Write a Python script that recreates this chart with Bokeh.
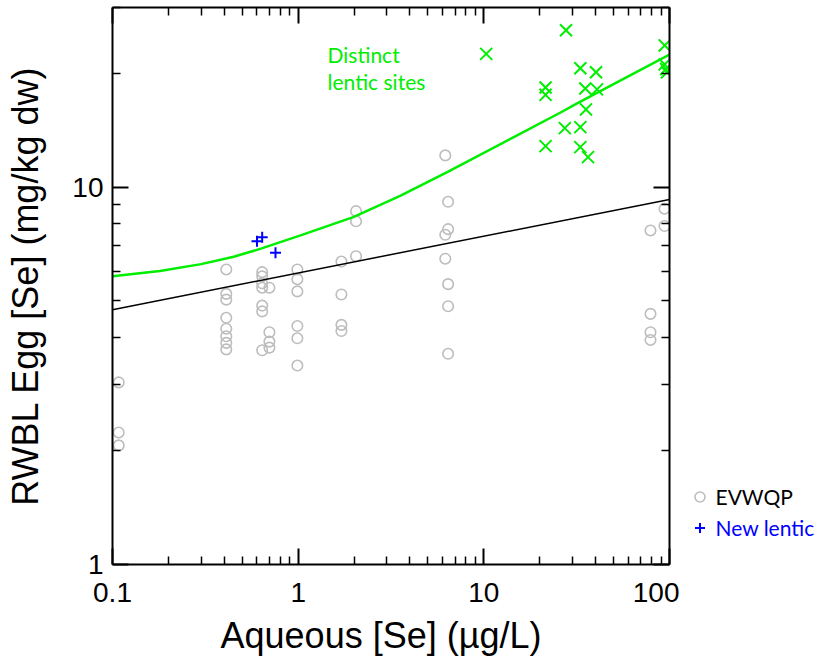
from bokeh.plotting import figure
from bokeh.layouts import row
from bokeh.models import (LogAxis, FixedTicker, CustomJSTickFormatter, Range1d,
                          Legend, LegendItem, Label)
from bokeh.embed import file_html
from bokeh.resources import INLINE

# ---------------- data ----------------
evwqp_x = [0.108, 0.108, 0.108,
           0.41, 0.41, 0.41, 0.41, 0.41, 0.41, 0.41, 0.41,
           0.64, 0.64, 0.64, 0.64, 0.64, 0.64, 0.64,
           0.70, 0.70, 0.70, 0.70,
           0.99, 0.99, 0.99, 0.99, 0.99, 0.99,
           1.71, 1.71, 1.71, 1.71,
           2.05, 2.05, 2.05,
           6.2, 6.2, 6.2,
           6.42, 6.42, 6.42, 6.42, 6.42,
           79, 79, 79, 79,
           94, 94]
evwqp_y = [3.04, 2.24, 2.07,
           6.06, 5.22, 5.04, 4.51, 4.22, 4.03, 3.87, 3.72,
           5.96, 5.81, 5.57, 5.42, 4.86, 4.69, 3.70,
           5.42, 4.13, 3.90, 3.76,
           6.06, 5.71, 5.30, 4.29, 3.98, 3.37,
           6.36, 5.20, 4.32, 4.16,
           8.65, 8.13, 6.57,
           12.16, 7.49, 6.47,
           9.16, 7.75, 5.54, 4.84, 3.62,
           7.69, 4.62, 4.13, 3.94,
           8.78, 7.90]

new_lentic_x = [0.60, 0.64, 0.755]
new_lentic_y = [7.20, 7.38, 6.71]

distinct_x = [10.3, 27.7, 21.5, 21.5, 21.5, 27.3, 33.1, 33.1, 33.1,
              35.2, 35.5, 36.4, 40.2, 40.7, 94.2, 94.2, 95.9, 97.0]
distinct_y = [22.6, 26.1, 18.4, 17.6, 12.87, 14.36, 20.7, 14.45, 12.79,
              18.3, 16.1, 12.03, 20.2, 18.2, 23.8, 21.2, 20.6, 20.2]

fit_all_x = [0.1, 100]
fit_all_y = [4.74, 9.29]

fit_distinct_x = [0.1, 0.18, 0.3, 0.45, 0.63, 1.03, 1.98, 3.54, 6.35, 14.5, 25.9, 31.8, 100]
fit_distinct_y = [5.81, 6.0, 6.26, 6.55, 6.88, 7.46, 8.34, 9.50, 10.98, 13.6, 15.8, 16.7, 22.5]

x_ticks = [0.1, 1, 10, 100]
x_minor = [0.2, 0.3, 0.4, 0.5, 0.6, 0.7, 0.8, 0.9,
           2, 3, 4, 5, 6, 7, 8, 9,
           20, 30, 40, 50, 60, 70, 80, 90]
y_ticks = [1, 10]
y_minor = [2, 3, 4, 5, 6, 7, 8, 9, 20, 30]

legend_labels = ["EVWQP", "New lentic"]

# ---------------- styles ----------------
GREEN = "#00ee00"
BLUE = "#0000ff"
GREY = "#bdbdbd"
AXFONT = "Liberation Sans"
NBSP = "\u00a0"

p = figure(frame_width=557, frame_height=557,
           x_axis_type="log", y_axis_type="log",
           x_range=Range1d(0.1, 100), y_range=Range1d(1, 30),
           output_backend="svg", toolbar_location=None,
           min_border_left=112, min_border_right=10,
           min_border_top=7, min_border_bottom=102,
           background_fill_color="white", border_fill_color="white")
p.outline_line_color = None
p.xgrid.visible = False
p.ygrid.visible = False

fmt = CustomJSTickFormatter(code="return tick.toString();")
blank = CustomJSTickFormatter(code="return '';")


def style_axis(ax, ticks, minor, labels=True):
    ax.ticker = FixedTicker(ticks=ticks, minor_ticks=minor)
    ax.axis_line_color = "black"
    ax.axis_line_width = 2
    ax.major_tick_in = 16
    ax.major_tick_out = 0
    ax.minor_tick_in = 8
    ax.minor_tick_out = 0
    ax.major_tick_line_width = 2
    ax.minor_tick_line_width = 1.5
    ax.major_tick_line_color = "black"
    ax.minor_tick_line_color = "black"
    if labels:
        ax.formatter = fmt
        ax.major_label_text_font = AXFONT
        ax.major_label_text_font_size = "28px"
        ax.major_label_text_color = "black"
    else:
        ax.formatter = blank
        ax.major_label_text_font_size = "0px"
        ax.major_label_standoff = 0


xa = p.xaxis[0]
ya = p.yaxis[0]
style_axis(xa, x_ticks, x_minor)
style_axis(ya, y_ticks, y_minor)
xa.major_label_standoff = 18
ya.major_label_standoff = 9
# two trailing no-break spaces nudge the centred title ~10 px to the left
xa.axis_label = "Aqueous [Se] (µg/L)" + NBSP * 2
ya.axis_label = "RWBL Egg [Se] (mg/kg dw)"
for ax in (xa, ya):
    ax.axis_label_text_font = AXFONT
    ax.axis_label_text_font_style = "normal"
    ax.axis_label_text_color = "black"
xa.axis_label_text_font_size = "36px"
ya.axis_label_text_font_size = "36px"
xa.axis_label_standoff = 10
ya.axis_label_standoff = 23

top = LogAxis()
style_axis(top, x_ticks, x_minor, labels=False)
right = LogAxis()
style_axis(right, y_ticks, y_minor, labels=False)
p.add_layout(top, "above")
p.add_layout(right, "right")

# ---------------- glyphs ----------------
ev_style = dict(marker="circle", fill_color=None, line_color=GREY, line_width=1.6)
new_style = dict(marker="cross", line_color=BLUE, line_width=2)

p.scatter(evwqp_x, evwqp_y, size=10.5, **ev_style)
p.line(fit_all_x, fit_all_y, line_color="black", line_width=1.5)
p.line(fit_distinct_x, fit_distinct_y, line_color=GREEN, line_width=2.5)
p.scatter(distinct_x, distinct_y, marker="x", size=17,
          line_color=GREEN, line_width=2)
p.scatter(new_lentic_x, new_lentic_y, size=11, **new_style)

p.add_layout(Label(x=1.44, y=22.5, text="Distinct", text_font="Lato",
                   text_font_size="21px", text_color=GREEN,
                   text_baseline="alphabetic"))
p.add_layout(Label(x=1.44, y=19.1, text="lentic sites", text_font="Lato",
                   text_font_size="21px", text_color=GREEN,
                   text_baseline="alphabetic"))

# ---------------- legend panel (separate figure to the right) ----------------
# the same data are plotted here outside the visible range, so only the
# legend entries show
q = figure(width=135, height=666, output_backend="svg", toolbar_location=None,
           x_range=Range1d(1000, 1001), y_range=Range1d(1000, 1001),
           min_border=0, background_fill_color="white", border_fill_color="white")
q.axis.visible = False
q.xgrid.visible = False
q.ygrid.visible = False
q.outline_line_color = None

g_ev = q.scatter(evwqp_x, evwqp_y, size=10, **ev_style)
g_new = q.scatter(new_lentic_x, new_lentic_y, size=10, **new_style)


def make_legend(label, renderer, color, loc):
    lg = Legend(items=[LegendItem(label=label, renderers=[renderer])],
                location=loc, padding=0, margin=0, spacing=0,
                glyph_width=25, glyph_height=25, label_standoff=4,
                label_text_font="Lato", label_text_font_size="21px",
                label_text_color=color, border_line_color=None,
                background_fill_alpha=0)
    q.add_layout(lg, "center")


make_legend(legend_labels[0], g_ev, "black", (7.5, 54.8))
make_legend(legend_labels[1], g_new, BLUE, (7.5, 24.5))

layout = row(p, q, spacing=0)
open("out.html", "w").write(file_html(layout, INLINE))
